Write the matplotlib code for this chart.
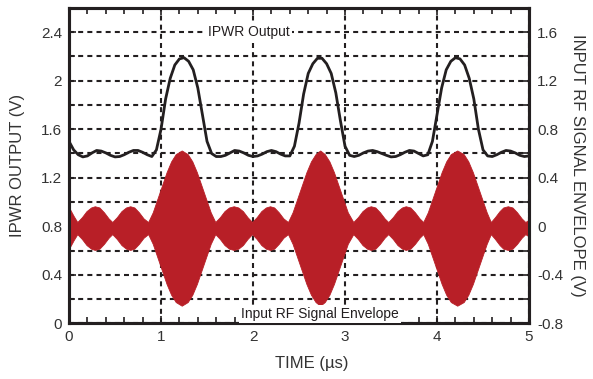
import numpy as np
import matplotlib
matplotlib.use("Agg")
from matplotlib import pyplot as plt
from matplotlib.ticker import MultipleLocator, FormatStrFormatter

plt.rcParams['font.family'] = ['Liberation Sans', 'DejaVu Sans']
plt.rcParams['axes.unicode_minus'] = False

# IPWR output (left axis), sampled every 0.05 us from 0 to 5 us
ipwr_t = np.linspace(0, 5, 101)
ipwr_v = [1.50, 1.43, 1.39, 1.372, 1.38, 1.405, 1.425, 1.42, 1.405, 1.385,
          1.372, 1.375, 1.39, 1.41, 1.425, 1.425, 1.41, 1.39, 1.375, 1.43,
          1.60, 1.85, 2.02, 2.13, 2.18, 2.19, 2.16, 2.09, 1.94, 1.72,
          1.50, 1.40, 1.375, 1.375, 1.385, 1.405, 1.425, 1.42, 1.405, 1.385,
          1.375, 1.38, 1.395, 1.415, 1.425, 1.415, 1.395, 1.38, 1.38, 1.46,
          1.65, 1.89, 2.06, 2.14, 2.185, 2.185, 2.14, 2.06, 1.90, 1.67,
          1.46, 1.385, 1.375, 1.385, 1.405, 1.42, 1.425, 1.415, 1.40, 1.385,
          1.372, 1.375, 1.39, 1.41, 1.425, 1.42, 1.40, 1.38, 1.39, 1.50,
          1.72, 1.94, 2.09, 2.16, 2.19, 2.18, 2.13, 2.02, 1.85, 1.60,
          1.43, 1.38, 1.375, 1.39, 1.41, 1.425, 1.42, 1.405, 1.385, 1.375,
          1.38]

# RF signal envelope (right axis): time points and half-amplitude
env_t = [0.00, 0.05, 0.09,
         0.14, 0.19, 0.24, 0.28, 0.33, 0.38, 0.43, 0.47,
         0.52, 0.57, 0.62, 0.665, 0.71, 0.76, 0.81, 0.86,
         0.91, 0.96, 1.01, 1.06, 1.11, 1.16, 1.225, 1.29, 1.34, 1.39, 1.44, 1.49, 1.54, 1.59,
         1.64, 1.69, 1.74, 1.79, 1.84, 1.89, 1.94, 1.99,
         2.04, 2.09, 2.14, 2.185, 2.23, 2.28, 2.33, 2.38,
         2.43, 2.48, 2.53, 2.58, 2.63, 2.68, 2.73, 2.78, 2.83, 2.88, 2.93, 2.98, 3.03, 3.09,
         3.14, 3.19, 3.24, 3.28, 3.33, 3.38, 3.43, 3.47,
         3.52, 3.57, 3.62, 3.66, 3.71, 3.76, 3.81, 3.85,
         3.90, 3.95, 4.00, 4.05, 4.10, 4.15, 4.22, 4.29, 4.34, 4.39, 4.44, 4.49, 4.54, 4.585,
         4.63, 4.68, 4.72, 4.77, 4.82, 4.87, 4.92, 4.96,
         5.00]
env_a = [0.17, 0.10, 0.05,
         0.09, 0.14, 0.17, 0.18, 0.17, 0.13, 0.08, 0.05,
         0.09, 0.14, 0.17, 0.18, 0.17, 0.13, 0.08, 0.05,
         0.13, 0.24, 0.35, 0.46, 0.55, 0.61, 0.64, 0.61, 0.55, 0.46, 0.35, 0.24, 0.13, 0.05,
         0.09, 0.14, 0.17, 0.18, 0.17, 0.14, 0.09, 0.05,
         0.09, 0.14, 0.17, 0.18, 0.17, 0.13, 0.08, 0.05,
         0.13, 0.24, 0.35, 0.46, 0.55, 0.61, 0.64, 0.61, 0.55, 0.46, 0.35, 0.24, 0.13, 0.05,
         0.09, 0.14, 0.17, 0.18, 0.17, 0.13, 0.08, 0.05,
         0.09, 0.14, 0.17, 0.18, 0.17, 0.13, 0.08, 0.05,
         0.13, 0.24, 0.35, 0.46, 0.55, 0.61, 0.64, 0.61, 0.55, 0.46, 0.35, 0.24, 0.13, 0.05,
         0.09, 0.14, 0.17, 0.18, 0.17, 0.13, 0.08, 0.05,
         0.07]
env_center = -0.015

red = '#b81f27'
dark = '#231f20'

fig = plt.figure(figsize=(5.93, 3.79), dpi=100)
ax = fig.add_axes([0.1164, 0.147, 0.7757, 0.832])
ax2 = ax.twinx()

# grid on the left axes, behind everything
ax.set_xlim(0, 5)
ax.set_ylim(0, 2.6)
ax.xaxis.set_major_locator(MultipleLocator(1))
ax.xaxis.set_minor_locator(MultipleLocator(0.2))
ax.yaxis.set_major_locator(MultipleLocator(0.4))
ax.yaxis.set_minor_locator(MultipleLocator(0.2))
ax.yaxis.set_major_formatter(FormatStrFormatter('%g'))
ax.xaxis.set_major_formatter(FormatStrFormatter('%g'))
grid_kw = dict(color=dark, linestyle=(0, (2.4, 2.0)), linewidth=1.5)
ax.grid(True, which='both', axis='y', **grid_kw)
ax.grid(True, which='major', axis='x', **grid_kw)
ax.set_axisbelow(True)

ax2.set_ylim(-0.8, 1.8)
ax2.yaxis.set_major_locator(MultipleLocator(0.4))
ax2.yaxis.set_minor_locator(MultipleLocator(0.2))
ax2.yaxis.set_major_formatter(FormatStrFormatter('%g'))
env_t_arr = np.array(env_t)
env_a_arr = np.array(env_a)
ax2.fill_between(env_t_arr, env_center + env_a_arr, env_center - env_a_arr,
                 color=red, linewidth=0.6, edgecolor=red, zorder=2)

# IPWR line drawn on the twin axes so it sits above the grid (shifted by 0.8 V)
ax2.plot(ipwr_t, np.array(ipwr_v) - 0.8, color=dark, linewidth=2.0, zorder=6)

ax2.text(1.96, 1.6, 'IPWR Output', fontsize=10, ha='center', va='center',
         color=dark, bbox=dict(facecolor='white', edgecolor='none', pad=1.5))
ax2.text(2.73, -0.72, 'Input RF Signal Envelope', fontsize=10, ha='center',
         va='center', color=dark,
         bbox=dict(facecolor='white', edgecolor='none', pad=1.5))

for a in (ax, ax2):
    for s in a.spines.values():
        s.set_linewidth(2.2)
        s.set_color(dark)

ax.tick_params(which='both', direction='in', top=True, bottom=True,
               left=True, right=False, color=dark, width=1.2,
               labelsize=11, labelcolor='#333333')
ax.tick_params(which='major', length=5, pad=5)
ax.tick_params(which='minor', length=4)
ax2.tick_params(which='both', direction='in', right=True, color=dark,
                width=1.2, labelsize=11, labelcolor='#333333')
ax2.tick_params(which='major', length=5, pad=6)
ax2.tick_params(which='minor', length=4)

ax.set_xlabel('TIME (µs)', fontsize=12, color='#333333', labelpad=9)
ax.xaxis.set_label_coords(0.528, -0.105)
ax.set_ylabel('IPWR OUTPUT (V)', fontsize=12, color='#333333')
ax.yaxis.set_label_coords(-0.095, 0.5)
ax2.set_ylabel('INPUT RF SIGNAL ENVELOPE (V)', fontsize=12, color='#333333',
               rotation=-90, va='bottom')
ax2.yaxis.set_label_coords(1.09, 0.5)

fig.savefig('out.png', dpi=100)
